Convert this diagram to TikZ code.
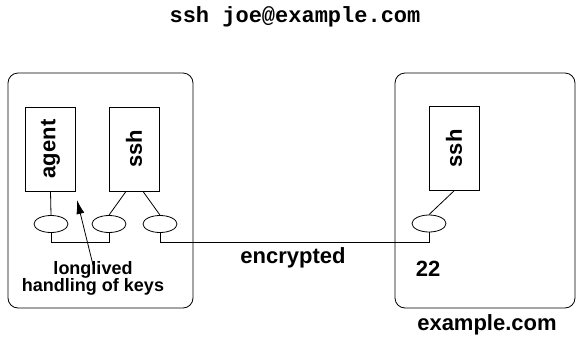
\documentclass[tikz,border=0pt]{standalone}
\usepackage{fontspec}
\setmainfont{Liberation Sans}
\newfontfamily\codefont{Liberation Mono}
\usetikzlibrary{shapes.geometric,arrows.meta}
\tikzset{
  host/.style={draw, rounded corners=10pt, line width=0.8pt},
  proc/.style={draw, line width=0.8pt, minimum width=50pt, minimum height=84pt, inner sep=0pt},
  sock/.style={draw, ellipse, line width=0.8pt, minimum width=34pt, minimum height=17pt, inner sep=0pt},
  lbl/.style={font=\fontsize{22}{24}\selectfont\bfseries, inner sep=0pt},
}
\begin{document}
\begin{tikzpicture}[x=1pt,y=-1pt]
		\useasboundingbox (0,0) rectangle (576,338);
		% the two machines
		\node[host, minimum width=185pt, minimum height=235pt] (client) at (100.5,190.5) {};
		\node[host, minimum width=180pt, minimum height=235pt] (server) at (485,190.5) {};
		\node[lbl, font=\codefont\fontsize{22}{24}\selectfont\bfseries] (cmd) at (295,17) {ssh joe@example.com};
		\node[lbl] (srvname) at (487,325) {example.com};
		% processes
		\node[proc] (agent) at (50.5,149) {\rotatebox{90}{\fontsize{22}{24}\selectfont\bfseries agent}};
		\node[proc] (sshc) at (134,149) {\rotatebox{90}{\fontsize{22}{24}\selectfont\bfseries ssh}};
		\node[proc] (sshd) at (454,148.5) {\rotatebox{90}{\fontsize{22}{24}\selectfont\bfseries ssh}};
		% sockets
		\node[sock] (sa) at (51,224) {};
		\node[sock] (sb) at (109,224) {};
		\node[sock] (sc) at (160,224) {};
		\node[sock] (sd) at (429,223.5) {};
		\draw[line width=0.8pt] (agent.south) -- (sa.north);
		\draw[line width=0.8pt] ([xshift=-8pt]sshc.south) -- (sb.north);
		\draw[line width=0.8pt] ([xshift=9pt]sshc.south) -- (sc.north);
		\draw[line width=0.8pt] (sshd.south) -- (sd.north);
		\coordinate (bus) at (0,242);
		\draw[line width=0.8pt] (sa.south) -- (sa.south |- bus) -| (sb.south);
		\draw[line width=0.8pt] (sc.south) -- (sc.south |- bus) -| (sd.south);
		\node[lbl] (crypt) at (293,258) {encrypted};
		\node[lbl] (port) at (428,269) {22};
		% note on the agent
		\node[lbl, font=\fontsize{18}{17}\selectfont\bfseries, align=center] (keys) at (93,278) {longlived\\handling of keys};
		\coordinate (keytip) at (77,200);
		\draw[-{Latex[length=14pt,width=8pt]}, line width=0.8pt] ([yshift=-4pt]keys.north) -- (keytip);
		\end{tikzpicture}
\end{document}
